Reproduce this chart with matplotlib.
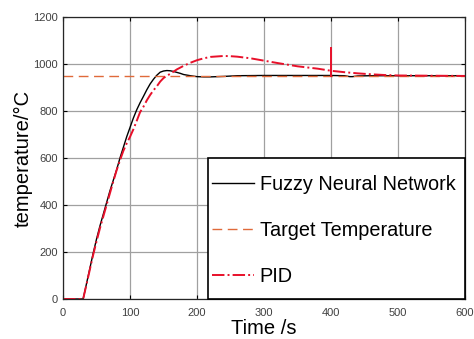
import matplotlib
matplotlib.use('Agg')
import matplotlib.pyplot as plt
from matplotlib.patches import Rectangle

plt.rcParams['font.family'] = ['Liberation Sans', 'DejaVu Sans']

# Fuzzy neural network response
fnn_t = [0, 30, 35, 40, 45, 50, 55, 60, 65, 70, 75, 80, 85, 90, 95, 100, 105, 110, 115,
         120, 125, 130, 135, 140, 145, 150, 155, 160, 165, 170, 175, 180, 190, 200, 210,
         220, 240, 260, 300, 350, 400, 420, 428, 432, 440, 460, 500, 550, 600]
fnn_v = [0, 0, 65, 130, 195, 255, 310, 360, 410, 460, 505, 550, 600, 645, 690, 730, 770,
         805, 835, 862, 890, 915, 935, 952, 965, 970, 972, 971, 968, 964, 960, 955, 950,
         946, 945, 945, 947, 950, 951, 951, 951, 950, 946, 946, 949, 950, 950, 950, 950]

# PID response
pid_t = [0, 30, 35, 40, 45, 50, 55, 60, 65, 70, 75, 80, 85, 90, 95, 100, 105, 110, 115,
         120, 125, 130, 135, 140, 145, 150, 155, 160, 170, 180, 190, 200, 210, 220, 230,
         240, 250, 260, 280, 300, 320, 350, 380, 400, 420, 440, 460, 480, 500, 550, 600]
pid_v = [0, 0, 62, 125, 188, 245, 300, 350, 400, 450, 500, 548, 590, 630, 662, 690, 722,
         758, 795, 818, 845, 868, 888, 905, 925, 940, 950, 958, 977, 992, 1005, 1016, 1024,
         1030, 1032, 1034, 1033, 1031, 1024, 1014, 1004, 990, 980, 971, 965, 960, 956,
         953, 951, 950, 949]

target_t = [0, 600]
target_v = [950, 950]

# disturbance spike at t=400
spike_t = [400, 400]
spike_v = [950, 1070]

fig = plt.figure(figsize=(4.74, 3.39), dpi=100)
ax = fig.add_axes([0.133, 0.118, 0.848, 0.832])

ax.plot(fnn_t, fnn_v, color='black', lw=1.0, label='Fuzzy Neural Network')
ax.plot(target_t, target_v, color='#e06a3a', lw=1.0, ls=(0, (7, 4)), label='Target Temperature')
ax.plot(pid_t, pid_v, color='#e8102a', lw=1.4, ls='-.', label='PID')
ax.plot(spike_t, spike_v, color='#e8102a', lw=1.4)

ax.set_xlim(0, 600)
ax.set_ylim(0, 1200)
ax.set_xticks(range(0, 601, 100))
ax.set_yticks(range(0, 1201, 200))
ax.grid(color='#a0a0a0', lw=0.9)
ax.tick_params(direction='in', labelsize=8, labelcolor='#404040', length=3,
               right=True, top=True)
ax.tick_params(axis='x', pad=6.5)
for s in ax.spines.values():
    s.set_color('#262626')
    s.set_linewidth(0.9)

ax.set_xlabel('Time /s', fontsize=14.5, labelpad=1)
ax.set_ylabel('temperature/°C', fontsize=14.5, labelpad=0.5)

# legend: tight horizontal padding, taller box drawn by hand
ax_w = 0.848 * 474
ax_h = 0.832 * 339
extra_x, extra_top, extra_bot = 5, 12.5, 8.5
leg = ax.legend(loc='lower right', bbox_to_anchor=(1 - extra_x / ax_w, extra_bot / ax_h),
                borderaxespad=0, fontsize=14.3, labelspacing=1.375, handlelength=2.1,
                handletextpad=0.3, borderpad=0.22, frameon=False)
fig.canvas.draw()
bb = leg.get_window_extent().transformed(fig.transFigure.inverted())
ex = extra_x / 474
et = extra_top / 339
eb = extra_bot / 339
ax.add_patch(Rectangle((bb.x0, bb.y0 - eb), bb.width + ex, bb.height + et + eb,
                       transform=fig.transFigure, facecolor='white', edgecolor='black',
                       lw=1.2, zorder=4.9, clip_on=False))

plt.savefig('out.png', dpi=100)
